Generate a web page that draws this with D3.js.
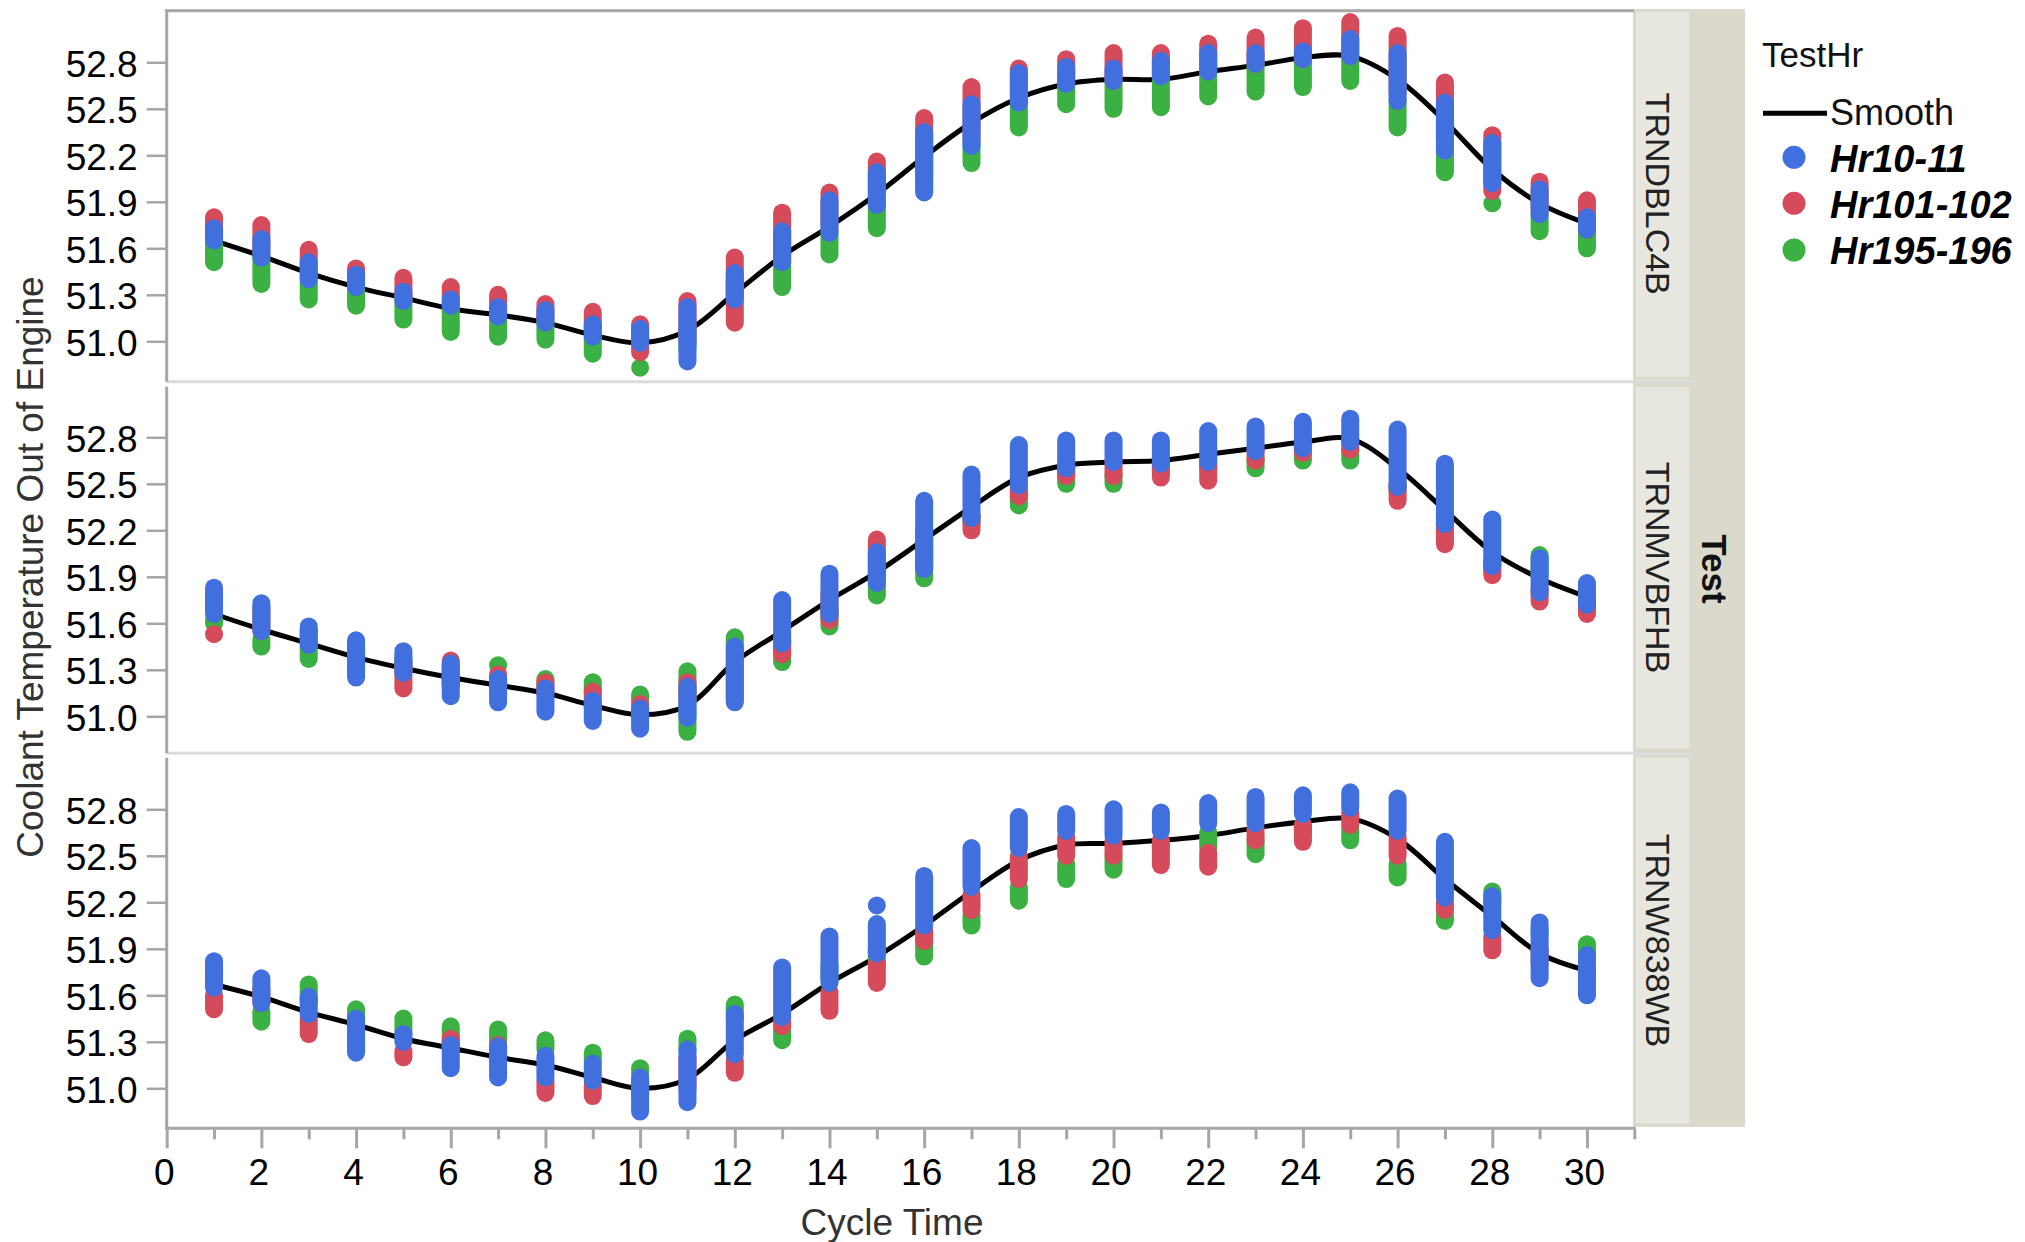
<!DOCTYPE html>
<html><head><meta charset="utf-8">
<script src="https://cdn.jsdelivr.net/npm/d3@7"></script>
<style>
html,body{margin:0;padding:0;background:#fff;}
svg{display:block;font-family:"Liberation Sans",Arial,sans-serif;}
</style></head><body>
<svg id="chart" width="2025" height="1242"></svg>
<script>
// ---------------- DATA ----------------
const cycleTimes = [1,2,3,4,5,6,7,8,9,10,11,12,13,14,15,16,17,18,19,20,21,22,23,24,25,26,27,28,29,30];
const testNames = ["TRNDBLC4B","TRNMVBFHB","TRNW838WB"];
const hourNames = ["Hr10-11","Hr101-102","Hr195-196"];
const xTickValues = [0,2,4,6,8,10,12,14,16,18,20,22,24,26,28,30];
const xMinorTickValues = [1,3,5,7,9,11,13,15,17,19,21,23,25,27,29,31];
const yTickValues = [51.0,51.3,51.6,51.9,52.2,52.5,52.8];

// TRNDBLC4B : range (low / high) of the points in each cycle-time column
const hr10Lo_TRNDBLC4B  = [51.65,51.54,51.40,51.35,51.26,51.23,51.16,51.12,51.03,50.99,50.87,51.27,51.51,51.70,51.88,51.96,52.26,52.54,52.66,52.68,52.71,52.74,52.79,52.82,52.84,52.55,52.23,52.02,51.82,51.72];
const hr10Hi_TRNDBLC4B  = [51.73,51.66,51.51,51.43,51.32,51.27,51.22,51.20,51.11,51.08,51.22,51.44,51.71,51.91,52.09,52.35,52.53,52.73,52.77,52.76,52.81,52.86,52.86,52.87,52.95,52.86,52.54,52.28,51.98,51.80];
const hr101Lo_TRNDBLC4B = [51.66,51.58,51.45,51.36,51.28,51.24,51.18,51.14,51.05,50.93,51.00,51.12,51.55,51.75,51.95,52.10,52.30,52.55,52.68,52.68,52.72,52.75,52.79,52.82,52.84,52.60,52.30,51.97,51.85,51.72];
const hr101Hi_TRNDBLC4B = [51.80,51.75,51.59,51.47,51.41,51.35,51.30,51.24,51.19,51.11,51.26,51.54,51.83,51.96,52.16,52.44,52.64,52.76,52.82,52.86,52.86,52.92,52.96,53.02,53.06,52.97,52.67,52.33,52.03,51.91];
const hr195Lo_TRNDBLC4B = [51.51,51.37,51.27,51.23,51.14,51.06,51.03,51.01,50.92,50.83,50.95,51.30,51.35,51.56,51.73,52.00,52.15,52.38,52.53,52.50,52.51,52.58,52.61,52.64,52.68,52.38,52.09,51.89,51.71,51.60];
const hr195Hi_TRNDBLC4B = [51.66,51.55,51.42,51.36,51.27,51.23,51.17,51.13,51.04,50.83,51.10,51.40,51.55,51.72,51.90,52.10,52.28,52.55,52.66,52.66,52.70,52.72,52.78,52.80,52.83,52.55,52.22,51.89,51.82,51.72];
const smooth_TRNDBLC4B  = [51.65,51.55,51.44,51.35,51.28,51.21,51.17,51.12,51.04,50.99,51.07,51.31,51.55,51.74,51.95,52.19,52.41,52.57,52.66,52.69,52.69,52.74,52.78,52.83,52.84,52.69,52.42,52.11,51.89,51.76];

// TRNMVBFHB
const hr10Lo_TRNMVBFHB  = [51.66,51.55,51.46,51.25,51.28,51.13,51.09,51.03,50.97,50.92,50.99,51.09,51.47,51.66,51.86,51.95,52.28,52.49,52.60,52.64,52.63,52.64,52.71,52.73,52.77,52.48,52.24,51.97,51.80,51.72];
const hr10Hi_TRNMVBFHB  = [51.83,51.73,51.58,51.49,51.42,51.34,51.24,51.18,51.10,51.05,51.19,51.45,51.75,51.92,52.06,52.39,52.56,52.75,52.78,52.78,52.78,52.84,52.87,52.90,52.92,52.85,52.63,52.27,52.02,51.86];
const hr101Lo_TRNMVBFHB = [51.53,51.55,51.48,51.30,51.18,51.20,51.20,51.15,51.05,51.00,51.10,51.10,51.40,51.62,51.90,52.00,52.20,52.42,52.55,52.55,52.54,52.52,52.65,52.70,52.72,52.39,52.11,51.91,51.74,51.66];
const hr101Hi_TRNMVBFHB = [51.53,51.70,51.55,51.45,51.35,51.36,51.27,51.22,51.16,51.08,51.22,51.30,51.50,51.80,52.14,52.20,52.30,52.50,52.62,52.65,52.63,52.65,52.72,52.75,52.78,52.50,52.25,52.00,51.82,51.74];
const hr195Lo_TRNMVBFHB = [51.60,51.45,51.37,51.30,51.30,51.20,51.33,51.20,51.15,51.10,50.90,51.30,51.35,51.58,51.78,51.89,52.25,52.36,52.50,52.50,52.58,52.60,52.60,52.65,52.65,52.45,52.20,51.95,51.90,51.70];
const hr195Hi_TRNMVBFHB = [51.62,51.50,51.45,51.40,51.38,51.30,51.33,51.24,51.22,51.14,51.29,51.51,51.45,51.70,51.88,52.00,52.30,52.45,52.58,52.56,52.60,52.62,52.66,52.70,52.72,52.50,52.25,52.00,52.04,51.75];
const smooth_TRNMVBFHB  = [51.66,51.56,51.47,51.38,51.31,51.25,51.20,51.15,51.07,51.01,51.07,51.35,51.55,51.75,51.93,52.14,52.35,52.54,52.62,52.64,52.65,52.69,52.73,52.77,52.79,52.60,52.33,52.06,51.89,51.77];

// TRNW838WB
const hr10Lo_TRNW838WB  = [51.65,51.55,51.48,51.23,51.30,51.13,51.07,51.07,51.05,50.85,50.91,51.22,51.46,51.68,51.87,52.05,52.30,52.55,52.66,52.63,52.66,52.71,52.71,52.77,52.81,52.66,52.23,52.02,51.71,51.60];
const hr10Hi_TRNW838WB  = [51.82,51.71,51.59,51.45,51.35,51.28,51.27,51.21,51.16,51.07,51.25,51.48,51.78,51.98,52.06,52.37,52.55,52.75,52.77,52.80,52.78,52.84,52.88,52.89,52.91,52.87,52.59,52.24,52.07,51.86];
const hr101Lo_TRNW838WB = [51.51,51.55,51.35,51.28,51.20,51.25,51.20,50.97,50.95,50.95,51.00,51.10,51.40,51.50,51.68,51.95,52.15,52.35,52.50,52.50,52.44,52.43,52.60,52.59,52.70,52.50,52.15,51.89,51.80,51.70];
const hr101Hi_TRNW838WB = [51.60,51.65,51.45,51.35,51.24,51.32,51.28,51.05,51.02,51.05,51.20,51.18,51.45,51.62,51.80,52.02,52.25,52.50,52.62,52.60,52.60,52.52,52.68,52.70,52.78,52.62,52.20,51.98,51.90,51.76];
const hr195Lo_TRNW838WB = [51.70,51.43,51.55,51.40,51.35,51.30,51.30,51.25,51.18,51.10,51.25,51.45,51.31,51.70,51.80,51.85,52.05,52.21,52.35,52.41,52.55,52.55,52.51,52.65,52.60,52.36,52.08,52.20,52.00,51.85];
const hr195Hi_TRNW838WB = [51.78,51.50,51.67,51.51,51.45,51.40,51.38,51.31,51.23,51.13,51.32,51.54,51.40,51.80,51.90,51.95,52.12,52.30,52.45,52.50,52.58,52.65,52.60,52.70,52.68,52.45,52.12,52.27,52.02,51.93];
const smooth_TRNW838WB  = [51.67,51.59,51.49,51.41,51.32,51.26,51.20,51.15,51.07,51.00,51.06,51.31,51.48,51.68,51.85,52.05,52.27,52.47,52.57,52.58,52.60,52.63,52.68,52.72,52.74,52.61,52.35,52.11,51.87,51.76];

// isolated point (TRNW838WB, Hr10-11)
const hr10ExtraCycle_TRNW838WB = [15];
const hr10ExtraValue_TRNW838WB = [52.18];

// ---------------- STYLE / LAYOUT ----------------
const COLORS = {"Hr10-11":"#4170DE","Hr101-102":"#D64B5C","Hr195-196":"#3BB143"};
const X0 = 166.7, X1 = 1634.3;
const PANEL_TOP = [10.7, 386.7, 757.7];
const PANEL_BOT = [381.7, 753.3, 1128.3];
const Y51 = [341.3, 716.3, 1088.3];
const PPU = 155;
const DOT_R = 9;
const AXIS_COLOR = "#a6a6a6";
const FS = 37;

const panelsData = [
  {name:testNames[0], smooth:smooth_TRNDBLC4B, series:[
    {name:hourNames[2], lo:hr195Lo_TRNDBLC4B, hi:hr195Hi_TRNDBLC4B},
    {name:hourNames[1], lo:hr101Lo_TRNDBLC4B, hi:hr101Hi_TRNDBLC4B},
    {name:hourNames[0], lo:hr10Lo_TRNDBLC4B,  hi:hr10Hi_TRNDBLC4B}], extra:[]},
  {name:testNames[1], smooth:smooth_TRNMVBFHB, series:[
    {name:hourNames[2], lo:hr195Lo_TRNMVBFHB, hi:hr195Hi_TRNMVBFHB},
    {name:hourNames[1], lo:hr101Lo_TRNMVBFHB, hi:hr101Hi_TRNMVBFHB},
    {name:hourNames[0], lo:hr10Lo_TRNMVBFHB,  hi:hr10Hi_TRNMVBFHB}], extra:[]},
  {name:testNames[2], smooth:smooth_TRNW838WB, series:[
    {name:hourNames[2], lo:hr195Lo_TRNW838WB, hi:hr195Hi_TRNW838WB},
    {name:hourNames[1], lo:hr101Lo_TRNW838WB, hi:hr101Hi_TRNW838WB},
    {name:hourNames[0], lo:hr10Lo_TRNW838WB,  hi:hr10Hi_TRNW838WB}],
    extra: hr10ExtraCycle_TRNW838WB.map((t,i)=>({name:hourNames[0], t:t, v:hr10ExtraValue_TRNW838WB[i]}))}
];

const svg = d3.select("#chart");
svg.append("rect").attr("width",2025).attr("height",1242).attr("fill","#fff");

const x = d3.scaleLinear().domain([0,31]).range([X0,X1]);

// strips (background)
svg.append("rect").attr("x",1633).attr("y",9).attr("width",112).attr("height",1118).attr("fill","#dbd9cb");
const stripInner = [[12,376.7],[386.7,748.3],[757.7,1123.3]];
stripInner.forEach((s,i)=>{
  svg.append("rect").attr("x",1636).attr("y",s[0]).attr("width",53).attr("height",s[1]-s[0]).attr("fill","#e7e7df");
});

// top frame
svg.append("line").attr("x1",X0-1.5).attr("x2",1634).attr("y1",PANEL_TOP[0]).attr("y2",PANEL_TOP[0])
  .attr("stroke",AXIS_COLOR).attr("stroke-width",3);
// separators
[PANEL_BOT[0], PANEL_BOT[1]].forEach(yv=>{
  svg.append("line").attr("x1",X0).attr("x2",1691.7).attr("y1",yv).attr("y2",yv)
    .attr("stroke","#dcdcdc").attr("stroke-width",3);
});

panelsData.forEach((p,i)=>{
  const y = d3.scaleLinear().domain([51,52.8]).range([Y51[i], Y51[i]-1.8*PPU]);
  const g = svg.append("g");

  // y axis
  const ax = g.append("g").attr("transform",`translate(${X0},0)`)
    .call(d3.axisLeft(y).tickValues(yTickValues).tickSize(20).tickPadding(9).tickFormat(d3.format(".1f")));
  ax.select(".domain").remove();
  ax.selectAll(".tick line").attr("stroke",AXIS_COLOR).attr("stroke-width",2.5);
  ax.selectAll(".tick text").attr("font-size",FS).attr("font-family","Liberation Sans, Arial, sans-serif")
    .attr("fill","#000").attr("dy","0.37em");
  g.append("line").attr("x1",X0).attr("x2",X0)
    .attr("y1",PANEL_TOP[i]-(i===0?1.5:0)).attr("y2",PANEL_BOT[i]+(i===2?1.5:0))
    .attr("stroke",AXIS_COLOR).attr("stroke-width",3);

  // smooth line
  const line = d3.line().x((d,k)=>x(cycleTimes[k])).y(d=>y(d)).curve(d3.curveCatmullRom.alpha(0.5));
  g.append("path").attr("d",line(p.smooth)).attr("fill","none").attr("stroke","#000").attr("stroke-width",5);

  // point columns
  p.series.forEach(s=>{
    g.append("g").selectAll("rect").data(cycleTimes).join("rect")
      .attr("x",t=>x(t)-DOT_R)
      .attr("y",(t,k)=>y(s.hi[k])-DOT_R)
      .attr("width",DOT_R*2)
      .attr("height",(t,k)=>y(s.lo[k])-y(s.hi[k])+DOT_R*2)
      .attr("rx",DOT_R).attr("ry",DOT_R)
      .attr("fill",COLORS[s.name]);
  });
  g.append("g").selectAll("circle").data(p.extra).join("circle")
    .attr("cx",d=>x(d.t)).attr("cy",d=>y(d.v)).attr("r",DOT_R).attr("fill",d=>COLORS[d.name]);

  // strip label
  const cy = (PANEL_TOP[i]+PANEL_BOT[i])/2 - 2.5;
  svg.append("text").attr("transform",`translate(1646,${cy}) rotate(90)`)
    .attr("text-anchor","middle").attr("font-size",34).attr("fill","#222").text(p.name);
});

// x axis
const xa = svg.append("g").attr("transform",`translate(0,${PANEL_BOT[2]})`)
  .call(d3.axisBottom(x).tickValues(xTickValues).tickSize(20).tickPadding(10).tickFormat(d3.format("d")));
xa.select(".domain").remove();
xa.selectAll(".tick line").attr("stroke",AXIS_COLOR).attr("stroke-width",3);
xa.selectAll(".tick text").attr("font-size",FS).attr("font-family","Liberation Sans, Arial, sans-serif")
  .attr("fill","#000").attr("dx","-3");
const xm = svg.append("g").attr("transform",`translate(0,${PANEL_BOT[2]})`)
  .call(d3.axisBottom(x).tickValues(xMinorTickValues).tickSize(11).tickFormat(""));
xm.select(".domain").remove();
xm.selectAll(".tick line").attr("stroke",AXIS_COLOR).attr("stroke-width",3);
svg.append("line").attr("x1",X0-1.5).attr("x2",X1+1.5).attr("y1",PANEL_BOT[2]).attr("y2",PANEL_BOT[2])
  .attr("stroke",AXIS_COLOR).attr("stroke-width",3);

// outer strip label
svg.append("text").attr("transform","translate(1702,569) rotate(90)")
  .attr("text-anchor","middle").attr("font-size",35).attr("font-weight","bold").attr("fill","#111").text("Test");

// axis titles
svg.append("text").attr("transform","translate(43,567) rotate(-90)").attr("text-anchor","middle")
  .attr("font-size",FS).attr("fill","#333").text("Coolant Temperature Out of Engine");
svg.append("text").attr("x",892).attr("y",1235).attr("text-anchor","middle")
  .attr("font-size",FS).attr("fill","#333").text("Cycle Time");

// legend
const lg = svg.append("g");
lg.append("text").attr("x",1762).attr("y",66.7).attr("font-size",35).attr("fill","#111").text("TestHr");
lg.append("line").attr("x1",1763).attr("x2",1827).attr("y1",113.3).attr("y2",113.3).attr("stroke","#000").attr("stroke-width",5);
lg.append("text").attr("x",1830).attr("y",125).attr("font-size",36).attr("fill","#111").text("Smooth");
const legY = [157.3, 203.3, 250];
hourNames.forEach((h,k)=>{
  lg.append("circle").attr("cx",1794).attr("cy",legY[k]).attr("r",11.5).attr("fill",COLORS[h]);
  lg.append("text").attr("x",1830).attr("y",legY[k]+14.4).attr("font-size",38)
    .attr("font-weight","bold").attr("font-style","italic").attr("fill","#000").text(h);
});
</script>
</body></html>
